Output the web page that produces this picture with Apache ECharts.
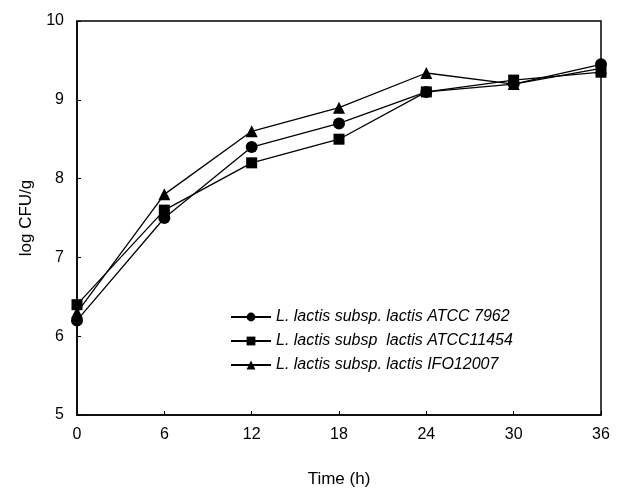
<!DOCTYPE html>
<html>
<head>
<meta charset="utf-8">
<title>log CFU/g over time</title>
<style>
  * { margin: 0; padding: 0; }
  body { background: #ffffff; width: 619px; height: 493px; overflow: hidden; }
  #chart { width: 619px; height: 493px; }
</style>
<script src="https://cdn.jsdelivr.net/npm/echarts@6/dist/echarts.min.js"></script>
</head>
<body>
<div id="chart"></div>
<script>
// data
const timeHours = [0, 6, 12, 18, 24, 30, 36];
const atcc7962 = [6.2, 7.5, 8.4, 8.7, 9.1, 9.2, 9.45];
const atcc11454 = [6.4, 7.6, 8.2, 8.5, 9.1, 9.25, 9.35];
const ifo12007 = [6.3, 7.8, 8.6, 8.9, 9.34, 9.2, 9.4];
const seriesNames = [
  'L. lactis subsp. lactis ATCC 7962',
  'L. lactis subsp  lactis ATCC11454',
  'L. lactis subsp. lactis IFO12007'
];
const seriesSymbols = ['circle', 'rect', 'triangle'];
const seriesValues = [atcc7962, atcc11454, ifo12007];

const font = 'Liberation Sans, Arial, sans-serif';

const chart = echarts.init(document.getElementById('chart'));

const series = seriesValues.map((vals, i) => ({
  name: seriesNames[i],
  type: 'line',
  data: vals.map((v, j) => [timeHours[j], v]),
  symbol: seriesSymbols[i],
  symbolSize: i === 1 ? 11 : 12,
  showSymbol: true,
  lineStyle: { color: '#000', width: 1.3 },
  itemStyle: { color: '#000' },
  z: 3 - i
}));

chart.setOption({
  animation: false,
  backgroundColor: '#fff',
  grid: {
    left: 77, right: 18, top: 21, bottom: 78,
    show: true, borderColor: '#000', borderWidth: 1.5
  },
  xAxis: {
    type: 'value',
    min: 0, max: 36, interval: 6,
    name: 'Time (h)',
    nameLocation: 'middle',
    nameGap: 56,
    nameTextStyle: { fontFamily: font, fontSize: 17, color: '#000' },
    axisLine: { lineStyle: { color: '#000', width: 1.5 } },
    axisTick: { inside: true, length: 4, lineStyle: { color: '#000' } },
    axisLabel: { fontFamily: font, fontSize: 16, color: '#000', margin: 12 },
    splitLine: { show: false }
  },
  yAxis: {
    type: 'value',
    min: 5, max: 10, interval: 1,
    name: 'log CFU/g',
    nameLocation: 'middle',
    nameGap: 40,
    nameTextStyle: { fontFamily: font, fontSize: 17, color: '#000' },
    axisLine: { lineStyle: { color: '#000', width: 1.5 } },
    axisTick: { inside: true, length: 4, lineStyle: { color: '#000' } },
    axisLabel: { fontFamily: font, fontSize: 16, color: '#000', margin: 13 },
    splitLine: { show: false }
  },
  legend: {
    orient: 'vertical',
    left: 225,
    top: 304,
    itemWidth: 40,
    itemHeight: 11,
    itemGap: 8,
    data: seriesNames,
    textStyle: { fontFamily: font, fontSize: 16, fontStyle: 'italic', color: '#000' }
  },
  series: series
});
</script>
</body>
</html>
